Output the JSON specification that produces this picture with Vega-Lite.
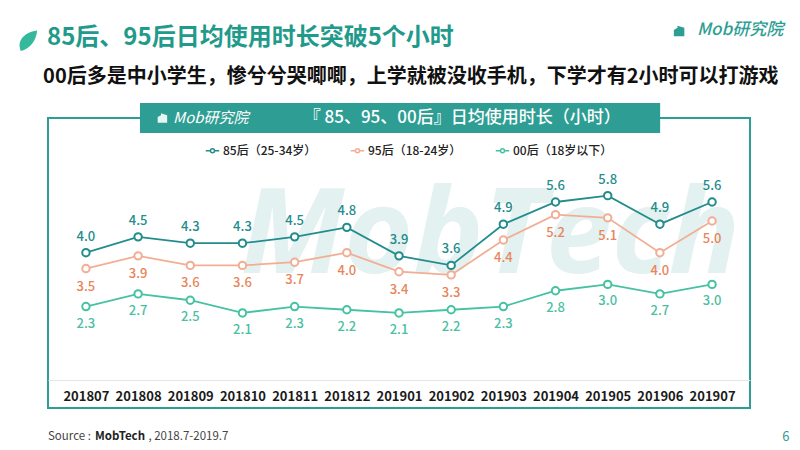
{
  "$schema": "https://vega.github.io/schema/vega-lite/v6.json",
  "width": 702,
  "height": 290,
  "autosize": "none",
  "padding": {"left": 48, "top": 118, "right": 50, "bottom": 42},
  "background": "white",
  "config": {
    "font": "Noto Sans CJK SC",
    "view": {"stroke": "#2e9e94", "strokeWidth": 2}
  },
  "layer": [
    {
      "data": {"values": [{"item": "decoration"}]},
      "layer": [
        {
          "mark": {"type": "text", "text": "MobTech", "fontSize": 118, "fontStyle": "italic", "fontWeight": "bold", "font": "Open Sans", "color": "#e3f1f0", "align": "center", "baseline": "alphabetic"},
          "encoding": {
            "x": {"datum": 0.63, "type": "quantitative", "scale": {"domain": [0, 1]}, "axis": null},
            "y": {"datum": 0.466, "type": "quantitative", "scale": {"domain": [0, 1]}, "axis": null}
          }
        },
        {
          "mark": {"type": "rect", "color": "#2e9e94"},
          "encoding": {
            "x": {"datum": 0.131, "type": "quantitative"},
            "x2": {"datum": 0.872},
            "y": {"datum": 0.948, "type": "quantitative"},
            "y2": {"datum": 1.052}
          }
        },
        {
          "mark": {"type": "point", "shape": "M-1,1V-0.2L-0.3,-0.6V-1L1,-0.6V1Z", "filled": true, "color": "#e8f6f3", "size": 90, "opacity": 1},
          "encoding": {
            "x": {"datum": 0.163, "type": "quantitative"},
            "y": {"datum": 1.0, "type": "quantitative"}
          }
        },
        {
          "mark": {"type": "text", "text": "Mob研究院", "fontSize": 15, "fontStyle": "italic", "color": "white", "align": "left", "baseline": "middle"},
          "encoding": {
            "x": {"datum": 0.178, "type": "quantitative"},
            "y": {"datum": 1.0, "type": "quantitative"}
          }
        },
        {
          "mark": {"type": "text", "text": "『 85、95、00后』日均使用时长（小时）", "fontSize": 17, "fontWeight": 500, "color": "white", "align": "center", "baseline": "middle"},
          "encoding": {
            "x": {"datum": 0.59, "type": "quantitative"},
            "y": {"datum": 1.0, "type": "quantitative"}
          }
        },
        {
          "mark": {"type": "point", "shape": "M-0.6,1C-1,0.1 -0.4,-0.8 1,-1C0.9,0 0.3,0.8 -0.6,1Z", "filled": true, "color": "#35b89c", "size": 420, "opacity": 1},
          "encoding": {
            "x": {"datum": -0.03, "type": "quantitative"},
            "y": {"datum": 1.266, "type": "quantitative"}
          }
        },
        {
          "mark": {"type": "text", "text": "85后、95后日均使用时长突破5个小时", "fontSize": 24, "fontWeight": "bold", "color": "#1f9a8b", "align": "left", "baseline": "middle"},
          "encoding": {
            "x": {"datum": -0.0014, "type": "quantitative"},
            "y": {"datum": 1.276, "type": "quantitative"}
          }
        },
        {
          "mark": {"type": "text", "text": "00后多是中小学生，惨兮兮哭唧唧，上学就被没收手机，下学才有2小时可以打游戏", "fontSize": 20, "fontWeight": "bold", "color": "#111111", "align": "left", "baseline": "middle"},
          "encoding": {
            "x": {"datum": -0.007, "type": "quantitative"},
            "y": {"datum": 1.141, "type": "quantitative"}
          }
        },
        {
          "mark": {"type": "point", "shape": "M-1,1V-0.2L-0.3,-0.6V-1L1,-0.6V1Z", "filled": true, "color": "#2e9e94", "size": 110, "opacity": 1},
          "encoding": {
            "x": {"datum": 0.899, "type": "quantitative"},
            "y": {"datum": 1.3, "type": "quantitative"}
          }
        },
        {
          "mark": {"type": "text", "text": "Mob研究院", "fontSize": 17, "fontStyle": "italic", "fontWeight": 500, "color": "#2e9e94", "align": "left", "baseline": "middle"},
          "encoding": {
            "x": {"datum": 0.9245, "type": "quantitative"},
            "y": {"datum": 1.303, "type": "quantitative"}
          }
        },
        {
          "mark": {"type": "text", "text": "Source :", "fontSize": 11.5, "color": "#444444", "align": "left", "baseline": "middle"},
          "encoding": {
            "x": {"datum": 0.0, "type": "quantitative"},
            "y": {"datum": -0.1, "type": "quantitative"}
          }
        },
        {
          "mark": {"type": "text", "text": "MobTech", "fontSize": 11.5, "fontWeight": "bold", "color": "#222222", "align": "left", "baseline": "middle"},
          "encoding": {
            "x": {"datum": 0.067, "type": "quantitative"},
            "y": {"datum": -0.1, "type": "quantitative"}
          }
        },
        {
          "mark": {"type": "text", "text": ", 2018.7-2019.7", "fontSize": 11.5, "color": "#444444", "align": "left", "baseline": "middle"},
          "encoding": {
            "x": {"datum": 0.143, "type": "quantitative"},
            "y": {"datum": -0.1, "type": "quantitative"}
          }
        },
        {
          "mark": {"type": "text", "text": "6", "fontSize": 13, "color": "#2e9e94", "align": "center", "baseline": "middle"},
          "encoding": {
            "x": {"datum": 1.051, "type": "quantitative"},
            "y": {"datum": -0.1, "type": "quantitative"}
          }
        }
      ]
    },
    {
      "data": {
        "values": [
          {"month": "201807", "series": "85后（25-34岁）", "hours": 4.0},
          {"month": "201808", "series": "85后（25-34岁）", "hours": 4.5},
          {"month": "201809", "series": "85后（25-34岁）", "hours": 4.3},
          {"month": "201810", "series": "85后（25-34岁）", "hours": 4.3},
          {"month": "201811", "series": "85后（25-34岁）", "hours": 4.5},
          {"month": "201812", "series": "85后（25-34岁）", "hours": 4.8},
          {"month": "201901", "series": "85后（25-34岁）", "hours": 3.9},
          {"month": "201902", "series": "85后（25-34岁）", "hours": 3.6},
          {"month": "201903", "series": "85后（25-34岁）", "hours": 4.9},
          {"month": "201904", "series": "85后（25-34岁）", "hours": 5.6},
          {"month": "201905", "series": "85后（25-34岁）", "hours": 5.8},
          {"month": "201906", "series": "85后（25-34岁）", "hours": 4.9},
          {"month": "201907", "series": "85后（25-34岁）", "hours": 5.6},
          {"month": "201807", "series": "95后（18-24岁）", "hours": 3.5},
          {"month": "201808", "series": "95后（18-24岁）", "hours": 3.9},
          {"month": "201809", "series": "95后（18-24岁）", "hours": 3.6},
          {"month": "201810", "series": "95后（18-24岁）", "hours": 3.6},
          {"month": "201811", "series": "95后（18-24岁）", "hours": 3.7},
          {"month": "201812", "series": "95后（18-24岁）", "hours": 4.0},
          {"month": "201901", "series": "95后（18-24岁）", "hours": 3.4},
          {"month": "201902", "series": "95后（18-24岁）", "hours": 3.3},
          {"month": "201903", "series": "95后（18-24岁）", "hours": 4.4},
          {"month": "201904", "series": "95后（18-24岁）", "hours": 5.2},
          {"month": "201905", "series": "95后（18-24岁）", "hours": 5.1},
          {"month": "201906", "series": "95后（18-24岁）", "hours": 4.0},
          {"month": "201907", "series": "95后（18-24岁）", "hours": 5.0},
          {"month": "201807", "series": "00后（18岁以下）", "hours": 2.3},
          {"month": "201808", "series": "00后（18岁以下）", "hours": 2.7},
          {"month": "201809", "series": "00后（18岁以下）", "hours": 2.5},
          {"month": "201810", "series": "00后（18岁以下）", "hours": 2.1},
          {"month": "201811", "series": "00后（18岁以下）", "hours": 2.3},
          {"month": "201812", "series": "00后（18岁以下）", "hours": 2.2},
          {"month": "201901", "series": "00后（18岁以下）", "hours": 2.1},
          {"month": "201902", "series": "00后（18岁以下）", "hours": 2.2},
          {"month": "201903", "series": "00后（18岁以下）", "hours": 2.3},
          {"month": "201904", "series": "00后（18岁以下）", "hours": 2.8},
          {"month": "201905", "series": "00后（18岁以下）", "hours": 3.0},
          {"month": "201906", "series": "00后（18岁以下）", "hours": 2.7},
          {"month": "201907", "series": "00后（18岁以下）", "hours": 3.0}
        ]
      },
      "encoding": {
        "x": {
          "field": "month",
          "type": "ordinal",
          "scale": {"type": "point", "padding": 0.727},
          "axis": {
            "title": null,
            "orient": "bottom",
            "offset": -28,
            "domainColor": "#e6e6e6",
            "domainWidth": 1,
            "ticks": false,
            "labelAngle": 0,
            "labelPadding": 10,
            "labelFontSize": 13,
            "labelFontWeight": "bold",
            "labelColor": "#1a1a1a",
            "grid": false
          }
        },
        "y": {
          "field": "hours",
          "type": "quantitative",
          "scale": {"domain": [-0.9, 8.25], "nice": false, "zero": false},
          "axis": null
        }
      },
      "layer": [
        {
          "mark": {"type": "line", "strokeWidth": 1.8},
          "encoding": {
            "color": {
              "field": "series",
              "type": "nominal",
              "sort": null,
              "scale": {
                "domain": ["85后（25-34岁）", "95后（18-24岁）", "00后（18岁以下）"],
                "range": ["#238c8c", "#f2ae94", "#45c2a2"]
              },
              "legend": {
                "title": null,
                "orient": "none",
                "direction": "horizontal",
                "legendX": 157,
                "legendY": 25,
                "symbolType": "M-1,0H-0.3M0.3,0H1M0.3,0A0.3,0.3 0 1 1 -0.3,0A0.3,0.3 0 1 1 0.3,0",
                "symbolSize": 180,
                "symbolFillColor": "white",
                "symbolStrokeWidth": 1.5,
                "labelFontSize": 12,
                "labelFontWeight": 500,
                "labelColor": "#222222",
                "columnPadding": 30,
                "labelOffset": 3
              }
            }
          }
        },
        {
          "mark": {"type": "point", "filled": false, "fill": "white", "size": 55, "strokeWidth": 2, "opacity": 1},
          "encoding": {
            "color": {"field": "series", "type": "nominal"}
          }
        },
        {
          "transform": [{"filter": "datum.series === '85后（25-34岁）'"}],
          "mark": {"type": "text", "dy": -16, "fontSize": 13, "fontWeight": 500, "color": "#238c8c"},
          "encoding": {"text": {"field": "hours", "type": "quantitative", "format": ".1f"}}
        },
        {
          "transform": [{"filter": "datum.series === '95后（18-24岁）'"}],
          "mark": {"type": "text", "dy": 18, "fontSize": 13, "fontWeight": 500, "color": "#e8855a"},
          "encoding": {"text": {"field": "hours", "type": "quantitative", "format": ".1f"}}
        },
        {
          "transform": [{"filter": "datum.series === '00后（18岁以下）'"}],
          "mark": {"type": "text", "dy": 17, "fontSize": 13, "fontWeight": 500, "color": "#4cbfa3"},
          "encoding": {"text": {"field": "hours", "type": "quantitative", "format": ".1f"}}
        }
      ]
    }
  ],
  "resolve": {"scale": {"x": "independent", "y": "independent"}}
}
